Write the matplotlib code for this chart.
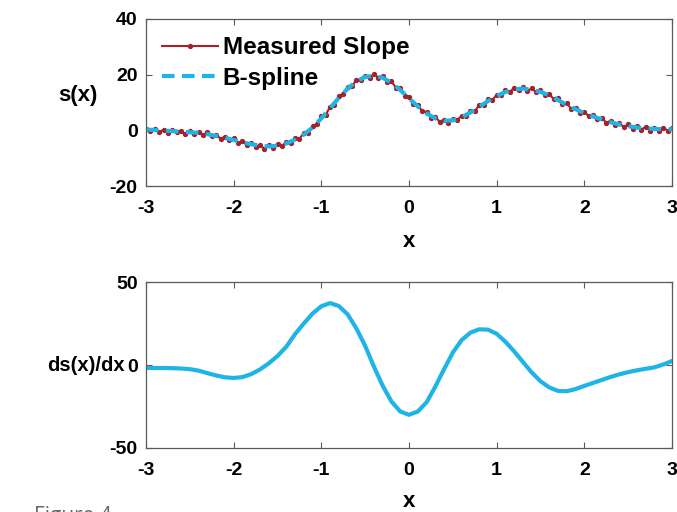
import matplotlib
matplotlib.use("Agg")
import matplotlib.pyplot as plt
import numpy as np

plt.rcParams["font.family"] = ["Liberation Sans", "DejaVu Sans"]
plt.rcParams["font.weight"] = "bold"
plt.rcParams["axes.unicode_minus"] = False

# B-spline fit of the slope, sampled every 0.1 on [-3, 3]
x_fit = np.round(np.arange(-3.0, 3.0001, 0.1), 2)
s_fit = [0.3, 0.1, -0.1, -0.3, -0.5, -0.7, -0.9, -1.4, -2.0, -2.7,
         -3.5, -4.3, -5.0, -5.5, -5.8, -5.5, -4.7, -3.3, -1.5, 1.0,
         4.3, 8.0, 11.7, 15.0, 17.6, 19.2, 19.6, 18.9, 17.1, 14.5,
         11.5, 8.6, 6.1, 4.3, 3.4, 3.6, 4.7, 6.4, 8.4, 10.5,
         12.3, 13.8, 14.7, 15.0, 14.6, 13.8, 12.6, 10.9, 9.1, 7.6,
         6.2, 5.0, 3.9, 2.9, 2.1, 1.5, 1.0, 0.7, 0.5, 0.4, 0.4]

# derivative of the fitted spline
ds_fit = [-1.8, -1.8, -1.8, -1.9, -2.1, -2.5, -3.4, -4.9, -6.3, -7.4,
          -7.8, -7.3, -5.5, -2.7, 1.0, 5.4, 11.0, 18.6, 25.0, 31.0,
          35.4, 37.3, 35.5, 30.5, 22.0, 11.5, -1.0, -12.5, -22.0, -28.0,
          -30.0, -28.0, -22.5, -13.0, -2.5, 7.5, 15.0, 19.5, 21.5, 21.3,
          18.8, 14.0, 8.2, 1.8, -4.5, -9.8, -13.5, -15.6, -15.8, -14.5,
          -12.6, -10.8, -9.0, -7.2, -5.6, -4.3, -3.2, -2.3, -1.4, 0.3, 2.4]

# measured slope, sampled every 0.05
x_meas = np.round(np.arange(-3.0, 3.0001, 0.05), 2)
s_meas = [0.5, -0.2, 0.6, -0.6, 0.2, -0.9, 0.3, -0.7, -0.1, -1.4,
          -0.2, -1.3, -0.6, -1.8, -0.7, -2.1, -1.5, -3.0, -2.3, -3.6,
          -2.9, -4.5, -3.9, -5.4, -4.5, -5.9, -5.2, -6.6, -5.4, -6.5,
          -5.0, -5.7, -4.1, -4.5, -2.9, -3.0, -1.0, -1.0, 1.6, 2.2,
          5.0, 5.6, 8.5, 9.2, 12.3, 12.9, 15.7, 15.8, 18.2, 18.1,
          19.7, 18.8, 20.3, 18.9, 19.5, 17.3, 17.6, 15.3, 15.1, 12.4,
          12.0, 9.4, 9.2, 6.9, 6.5, 4.6, 4.8, 3.1, 3.8, 2.6,
          4.1, 3.6, 5.3, 5.1, 6.9, 6.8, 9.1, 9.0, 11.1, 10.8,
          12.8, 12.7, 14.5, 13.8, 15.3, 14.5, 15.5, 14.2, 15.1, 13.7,
          14.4, 12.6, 13.1, 11.2, 11.5, 9.5, 9.7, 7.8, 8.1, 6.2,
          6.7, 5.1, 5.6, 3.9, 4.4, 2.8, 3.4, 1.8, 2.6, 1.2,
          2.1, 0.6, 1.5, 0.3, 1.3, -0.1, 1.0, -0.2, 1.0, -0.1, 0.8]

red = "#A3222B"
cyan = "#1FB4E6"
spine = "#5a5a5a"

fig = plt.figure(figsize=(6.77, 5.12), dpi=100)
ax1 = fig.add_axes([0.2157, 0.6367, 0.7769, 0.3262])
ax2 = fig.add_axes([0.2157, 0.1250, 0.7769, 0.3242])

ax1.plot(x_meas, s_meas, "-", color=red, lw=1.5, marker="o", ms=2.8,
         label="Measured Slope")
ax1.plot(x_fit, s_fit, "--", color=cyan, lw=3, dashes=(3, 1.8),
         label="B-spline")
ax1.set_xlim(-3, 3)
ax1.set_ylim(-20, 40)
ax1.set_yticks([-20, 0, 20, 40])
ax1.set_xlabel("x", fontsize=16, fontweight="bold", labelpad=10)
ax1.set_ylabel("s(x)", fontsize=16, fontweight="bold", rotation=0,
               va="center", ha="center")
ax1.yaxis.set_label_coords(-0.129, 0.54)
ax1.legend(loc="upper left", frameon=False, handlelength=2.3,
           handletextpad=0.2, labelspacing=0.3, borderaxespad=0.0,
           bbox_to_anchor=(0.012, 0.955), prop={"weight": "bold", "size": 17.5})

ax2.plot(x_fit, ds_fit, "-", color=cyan, lw=3)
ax2.set_xlim(-3, 3)
ax2.set_ylim(-50, 50)
ax2.set_yticks([-50, 0, 50])
ax2.set_xlabel("x", fontsize=16, fontweight="bold", labelpad=9)
ax2.set_ylabel("ds(x)/dx", fontsize=14.5, fontweight="bold", rotation=0,
               va="center", ha="center")
ax2.yaxis.set_label_coords(-0.114, 0.5)

for ax in (ax1, ax2):
    ax.set_xticks([-3, -2, -1, 0, 1, 2, 3])
    ax.tick_params(direction="in", length=4, width=0.8, color=spine,
                   top=True, right=True, labelsize=14)
    ax.tick_params(axis="x", pad=10)
    ax.tick_params(axis="y", pad=6)
    for lab in ax.get_xticklabels() + ax.get_yticklabels():
        lab.set_fontweight("bold")
    for sp in ax.spines.values():
        sp.set_color(spine)
        sp.set_linewidth(0.9)

fig.text(0.05, -0.02, "Figure 4", fontsize=15, color="#666666",
         family="Open Sans", fontweight="normal")

fig.savefig("out.png", dpi=100)
plt.close(fig)
